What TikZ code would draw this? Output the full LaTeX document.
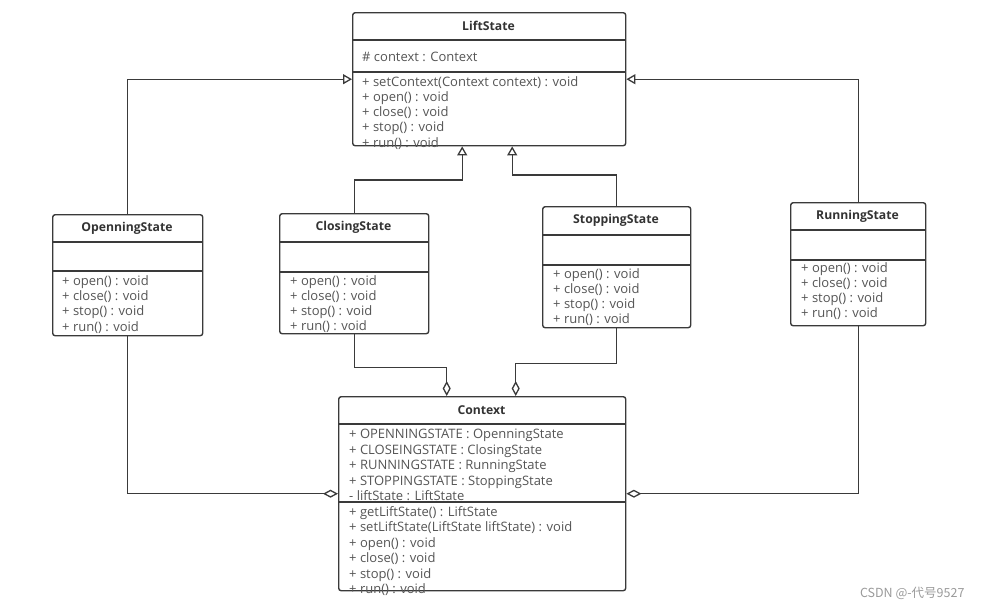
\documentclass[tikz,border=0pt]{standalone}
\usepackage{fontspec}
\setmainfont{Open Sans}
\newfontfamily\cjkfont{Noto Sans CJK SC}
\usetikzlibrary{arrows.meta}
\definecolor{umlline}{HTML}{3A3A3A}
\definecolor{umltext}{HTML}{555555}
\definecolor{marktext}{HTML}{9A9A9A}

\tikzset{
  classbox/.style={draw=umlline, line width=1.4pt, rounded corners=2.5pt, fill=white, inner sep=0pt, anchor=north west},
  sepline/.style={draw=umlline, line width=1.2pt},
  classname/.style={font=\fontsize{12.2}{14}\selectfont\bfseries, text=black!80},
  member/.style={font=\fontsize{13}{15}\selectfont, text=umltext, inner sep=0pt, anchor=base west},
  inherit/.style={draw=umlline, line width=1.3pt, -{Triangle[open, length=9pt, width=10pt]}},
  aggr/.style={draw=umlline, line width=1.3pt, -{Diamond[open, length=15pt, width=8pt]}},
}

\begin{document}
\begin{tikzpicture}[x=1pt,y=-1pt]
\useasboundingbox (0,0) rectangle (984,611);
% name, left, top, right, bottom, header line, section line, title
\def\umlclass#1#2#3#4#5#6#7#8{
    \node[classbox, minimum width=#4pt-#2pt, minimum height=#5pt-#3pt] (#1) at (#2,#3) {};
    \draw[sepline] (#2,#6) -- (#4,#6) (#2,#7) -- (#4,#7);
    \node[classname] (#1-title) at ({(#2+#4)/2},{(#3+#6)/2}) {#8};
}
% prefix, x, first baseline, step, lines
\def\members#1#2#3#4#5{
    \foreach \m [count=\i] in {#5}
        \node[member] (#1-\i) at (#2,{#3+(\i-1)*#4}) {\m};
}

    \umlclass{lift}{352}{12}{625}{145}{40}{72}{LiftState}
    \members{lift-a}{362}{61}{15.3}{\# context : Context}
    \members{lift-m}{362}{86}{15.3}{+ setContext(Context context) : void, + open() : void, + close() : void, + stop() : void, + run() : void}

    \umlclass{open}{52}{214}{202}{335}{242}{271}{OpenningState}
    \members{open-m}{62}{285.5}{15.2}{+ open() : void, + close() : void, + stop() : void, + run() : void}

    \umlclass{close}{279}{213}{428}{333}{242}{272}{ClosingState}
    \members{close-m}{290}{285.5}{15}{+ open() : void, + close() : void, + stop() : void, + run() : void}

    \umlclass{stop}{542}{206}{690}{327}{235}{265}{StoppingState}
    \members{stop-m}{553}{278.5}{15.1}{+ open() : void, + close() : void, + stop() : void, + run() : void}

    \umlclass{run}{790}{202}{925}{325}{230}{260}{RunningState}
    \members{run-m}{801}{272.5}{14.9}{+ open() : void, + close() : void, + stop() : void, + run() : void}

    \umlclass{ctx}{338}{396}{625}{590}{424}{502}{Context}
    \members{ctx-a}{349}{438.5}{15.5}{+ OPENNINGSTATE : OpenningState, + CLOSEINGSTATE : ClosingState, + RUNNINGSTATE : RunningState, + STOPPINGSTATE : StoppingState, - liftState : LiftState}
    \members{ctx-m}{349}{516}{15.5}{+ getLiftState() : LiftState, + setLiftState(LiftState liftState) : void, + open() : void, + close() : void, + stop() : void, + run() : void}

    \draw[inherit] (open.north) |- (lift.west);
    \draw[inherit] (run.north) |- (lift.east);
    \draw[inherit] (close.north) -- ++(0,-33) -| ([xshift=-27pt]lift.south);
    \draw[inherit] (stop.north) -- ++(0,-31) -| ([xshift=23pt]lift.south);
    \draw[aggr] (close.south) -- ++(0,33) -| ([xshift=-35.5pt]ctx.north);
    \draw[aggr] (stop.south) -- ++(0,35) -| ([xshift=33.5pt]ctx.north);
    \draw[aggr] (open.south) |- (ctx.west);
    \draw[aggr] (run.south) |- (ctx.east);

    \node[font=\cjkfont\fontsize{12.5}{14}\selectfont, text=marktext, anchor=east] (mark) at (968,593) {CSDN @-代号9527};

\end{tikzpicture}
\end{document}
